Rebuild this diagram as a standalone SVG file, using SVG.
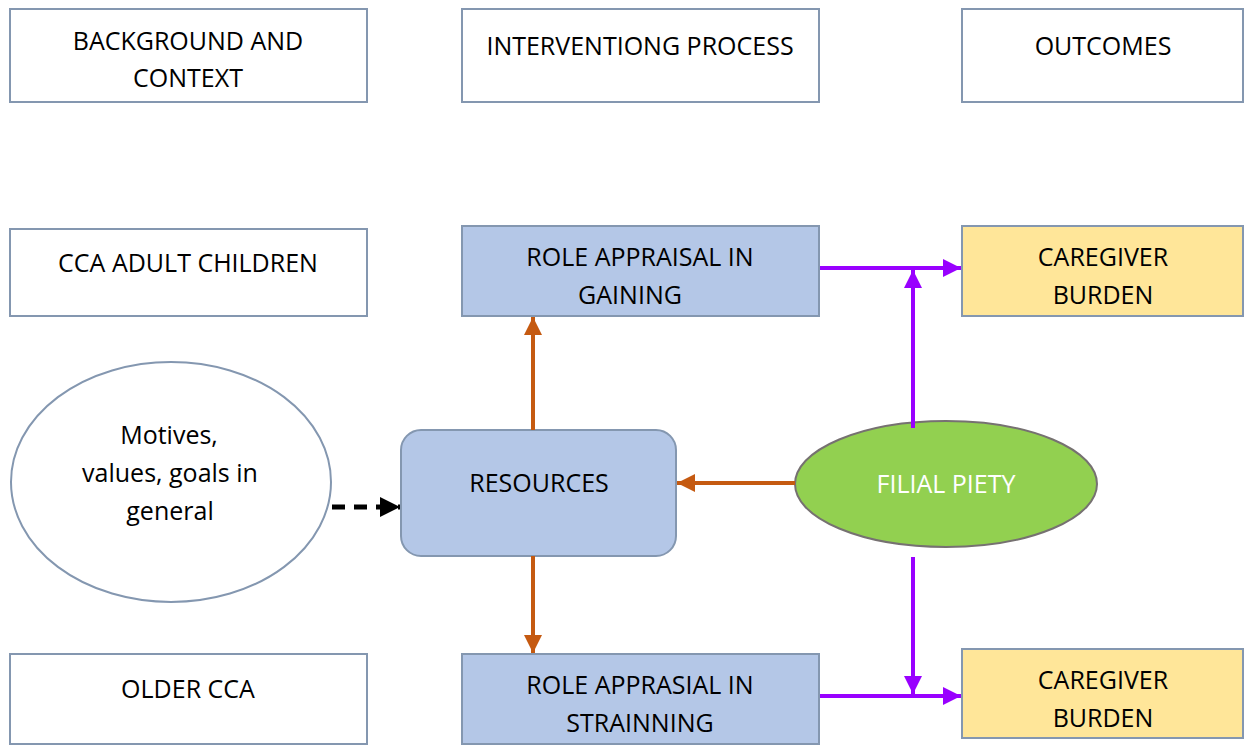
<svg xmlns="http://www.w3.org/2000/svg" width="1244" height="745" viewBox="0 0 1244 745">
<defs>
<style>
.box{fill:#ffffff;stroke:#8497b0;stroke-width:2}
.blue{fill:#b4c7e7;stroke:#8497b0;stroke-width:2}
.yel{fill:#ffe699;stroke:#8497b0;stroke-width:2}
text{font-family:"Open Sans","Liberation Sans",sans-serif;font-size:25px;fill:#000;text-anchor:middle;dominant-baseline:central}
.pur{stroke:#9900ff;stroke-width:4;fill:none}
.ora{stroke:#c55a11;stroke-width:4;fill:none}
</style>
<marker id="mp" viewBox="0 0 10 10" refX="10" refY="5" markerWidth="4.5" markerHeight="4.5" markerUnits="strokeWidth" orient="auto"><path d="M0,0 L10,5 L0,10 z" fill="#9900ff"/></marker>
<marker id="mo" viewBox="0 0 10 10" refX="10" refY="5" markerWidth="4.5" markerHeight="4.5" markerUnits="strokeWidth" orient="auto"><path d="M0,0 L10,5 L0,10 z" fill="#c55a11"/></marker>
<marker id="mk" viewBox="0 0 10 10" refX="10" refY="5" markerWidth="4" markerHeight="4" markerUnits="strokeWidth" orient="auto"><path d="M0,0 L10,5 L0,10 z" fill="#000"/></marker>
</defs>
<g id="n-background"><rect class="box" x="10" y="9" width="357" height="93"/><text x="188" y="40">BACKGROUND AND</text><text x="188" y="77">CONTEXT</text></g>
<g id="n-process"><rect class="box" x="462" y="9" width="357" height="93"/><text x="640" y="45">INTERVENTIONG PROCESS</text></g>
<g id="n-outcomes"><rect class="box" x="962" y="9" width="281" height="93"/><text x="1103" y="45">OUTCOMES</text></g>
<g id="n-adult"><rect class="box" x="10" y="229" width="357" height="87"/><text x="188" y="262">CCA ADULT CHILDREN</text></g>
<g id="n-gaining"><rect class="blue" x="462" y="226" width="357" height="90"/><text x="640" y="256">ROLE APPRAISAL IN</text><text x="630" y="294">GAINING</text></g>
<g id="n-burden1"><rect class="yel" x="962" y="226" width="281" height="90"/><text x="1103" y="256">CAREGIVER</text><text x="1103" y="294">BURDEN</text></g>
<g id="n-motives"><ellipse cx="171" cy="482" rx="160" ry="120" fill="#fff" stroke="#8497b0" stroke-width="2"/><text x="169" y="434">Motives,</text><text x="170" y="472">values, goals in</text><text x="170" y="510">general</text></g>
<g id="n-resources"><rect class="blue" x="401" y="430" width="275" height="126" rx="20"/><text x="539" y="482">RESOURCES</text></g>
<g id="n-filial"><ellipse cx="946" cy="484" rx="151" ry="63" fill="#92d050" stroke="#767171" stroke-width="2"/><text x="946" y="483" style="fill:#fff">FILIAL PIETY</text></g>
<g id="n-older"><rect class="box" x="10" y="654" width="357" height="90"/><text x="188" y="688">OLDER CCA</text></g>
<g id="n-straining"><rect class="blue" x="462" y="654" width="357" height="90"/><text x="640" y="684">ROLE APPRASIAL IN</text><text x="640" y="722">STRAINNING</text></g>
<g id="n-burden2"><rect class="yel" x="962" y="649" width="281" height="89"/><text x="1103" y="679">CAREGIVER</text><text x="1103" y="717">BURDEN</text></g>
<g id="connectors">
<line class="pur" x1="820" y1="268" x2="961" y2="268" marker-end="url(#mp)"/>
<line class="pur" x1="913" y1="428" x2="913" y2="270" marker-end="url(#mp)"/>
<line class="pur" x1="820" y1="696" x2="961" y2="696" marker-end="url(#mp)"/>
<line class="pur" x1="913" y1="557" x2="913" y2="694" marker-end="url(#mp)"/>
<line class="ora" x1="533" y1="430" x2="533" y2="317" marker-end="url(#mo)"/>
<line class="ora" x1="533" y1="556" x2="533" y2="653" marker-end="url(#mo)"/>
<line class="ora" x1="795" y1="483" x2="677" y2="483" marker-end="url(#mo)"/>
<line x1="332" y1="507" x2="400" y2="507" stroke="#000" stroke-width="5" stroke-dasharray="13,9" marker-end="url(#mk)"/>
</g>
</svg>
